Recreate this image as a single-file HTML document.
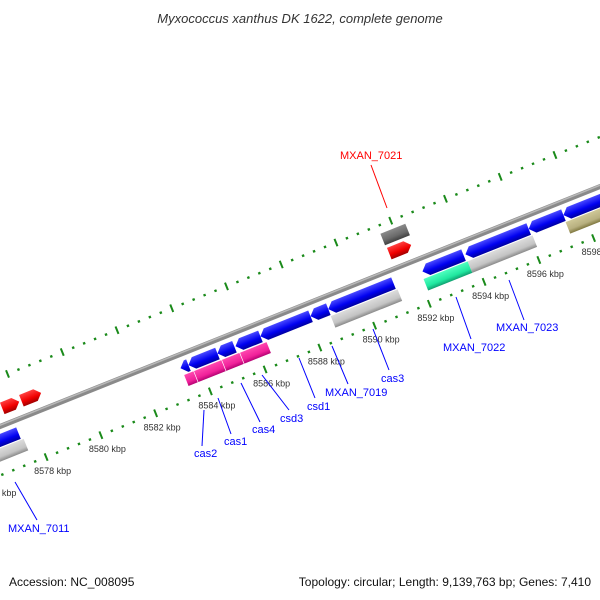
<!DOCTYPE html>
<html><head><meta charset="utf-8"><style>
html,body{margin:0;padding:0;background:#fff;}
svg{display:block;font-family:"Liberation Sans","DejaVu Sans",sans-serif;}
</style></head><body>
<svg id="map" width="600" height="600" viewBox="0 0 600 600" xmlns="http://www.w3.org/2000/svg">
<defs>
<linearGradient id="gBlue" x1="0" y1="0" x2="0" y2="1"><stop offset="0" stop-color="#4a4aff"/><stop offset="0.6" stop-color="#0000f0"/><stop offset="1" stop-color="#0000a0"/></linearGradient>
<linearGradient id="gGray" x1="0" y1="0" x2="0" y2="1"><stop offset="0" stop-color="#dcdcdc"/><stop offset="0.65" stop-color="#c4c4c4"/><stop offset="1" stop-color="#8a8a8a"/></linearGradient>
<linearGradient id="gPink" x1="0" y1="0" x2="0" y2="1"><stop offset="0" stop-color="#ff4ab0"/><stop offset="0.65" stop-color="#f0209a"/><stop offset="1" stop-color="#b00070"/></linearGradient>
<linearGradient id="gGreen" x1="0" y1="0" x2="0" y2="1"><stop offset="0" stop-color="#50ffc0"/><stop offset="0.65" stop-color="#20e8a0"/><stop offset="1" stop-color="#10a070"/></linearGradient>
<linearGradient id="gOlive" x1="0" y1="0" x2="0" y2="1"><stop offset="0" stop-color="#cfc898"/><stop offset="0.65" stop-color="#b8b080"/><stop offset="1" stop-color="#807840"/></linearGradient>
<linearGradient id="gRed" x1="0" y1="0" x2="0" y2="1"><stop offset="0" stop-color="#ff4040"/><stop offset="0.6" stop-color="#f00000"/><stop offset="1" stop-color="#a00000"/></linearGradient>
<linearGradient id="gDark" x1="0" y1="0" x2="0" y2="1"><stop offset="0" stop-color="#8a8a8a"/><stop offset="0.6" stop-color="#6a6a6a"/><stop offset="1" stop-color="#404040"/></linearGradient>
</defs>
<text x="300" y="23" text-anchor="middle" font-size="13" font-style="italic" fill="#333">Myxococcus xanthus DK 1622, complete genome</text>
<g id="track" transform="translate(0,426.5) rotate(-21.8)"></g>
<g id="ticklabels"></g>
<g font-size="11">
<g><line x1="15" y1="482" x2="37" y2="520" stroke="#00f"/><text x="8" y="532" fill="#00f">MXAN_7011</text></g>
<g><line x1="204" y1="410" x2="202" y2="446" stroke="#00f"/><text x="194" y="457" fill="#00f">cas2</text></g>
<g><line x1="218" y1="398" x2="231" y2="434" stroke="#00f"/><text x="224" y="445" fill="#00f">cas1</text></g>
<g><line x1="241" y1="383" x2="260" y2="422" stroke="#00f"/><text x="252" y="433" fill="#00f">cas4</text></g>
<g><line x1="262" y1="375" x2="289" y2="410" stroke="#00f"/><text x="280" y="422" fill="#00f">csd3</text></g>
<g><line x1="299" y1="358" x2="315" y2="398" stroke="#00f"/><text x="307" y="410" fill="#00f">csd1</text></g>
<g><line x1="332" y1="346" x2="348" y2="384" stroke="#00f"/><text x="325" y="396" fill="#00f">MXAN_7019</text></g>
<g><line x1="373" y1="329" x2="389" y2="370" stroke="#00f"/><text x="381" y="382" fill="#00f">cas3</text></g>
<g><line x1="456" y1="297" x2="471" y2="339" stroke="#00f"/><text x="443" y="351" fill="#00f">MXAN_7022</text></g>
<g><line x1="509" y1="280" x2="524" y2="320" stroke="#00f"/><text x="496" y="331" fill="#00f">MXAN_7023</text></g>
<g><line x1="371" y1="165" x2="387" y2="208" stroke="#f00"/><text x="340" y="159" fill="#f00">MXAN_7021</text></g>
</g>
<text x="9" y="586" font-size="12" fill="#111">Accession: NC_008095</text>
<text x="591" y="586" font-size="12" fill="#111" text-anchor="end">Topology: circular; Length: 9,139,763 bp; Genes: 7,410</text>
</svg>
<script>
const geneStart = [8575,8583.35,8583.64,8584.70,8585.36,8586.27,8588.10,8588.75,8592.19,8593.76,8596.07,8597.34, 8575,8588.74,8593.74, 8583.37,8583.73,8584.75,8585.41, 8592.13, 8597.32, 8577.23,8577.93,8591.37, 8591.34];
const geneEnd   = [8577.43,8583.64,8584.70,8585.32,8586.27,8588.10,8588.75,8591.13,8593.69,8596.07,8597.34,8599.5, 8577.52,8591.18,8596.11, 8583.73,8584.75,8585.41,8586.40, 8593.74, 8599.5, 8577.85,8578.65,8592.17, 8592.25];
const geneStrand = [-1,-1,-1,-1,-1,-1,-1,-1,-1,-1,-1,-1, 0,0,0, 0,0,0,0, 0, 0, 1,1,1, 0];
const geneLane   = [1,1,1,1,1,1,1,1,1,1,1,1, 2,2,2, 2,2,2,2, 2, 2, -1,-1,-1, -2];
const geneFill   = ["gBlue","gBlue","gBlue","gBlue","gBlue","gBlue","gBlue","gBlue","gBlue","gBlue","gBlue","gBlue","gGray","gGray","gGray","gPink","gPink","gPink","gPink","gGreen","gOlive","gRed","gRed","gRed","gDark"];
const lowerMajorTicks = [8576,8578,8580,8582,8584,8586,8588,8590,8592,8594,8596,8598,8600];
const lowerTickLabels = ["8576 kbp","8578 kbp","8580 kbp","8582 kbp","8584 kbp","8586 kbp","8588 kbp","8590 kbp","8592 kbp","8594 kbp","8596 kbp","8598 kbp","8600 kbp"];
const upperMajorTicks = [8575.83,8577.83,8579.83,8581.83,8583.83,8585.83,8587.83,8589.83,8591.83,8593.83,8595.83,8597.83,8599.83];

const NS="http://www.w3.org/2000/svg";
const ANG=21.8*Math.PI/180, COS=Math.cos(ANG), SIN=Math.sin(ANG);
function sPos(k){return 31.5+(k-8578)*29.48;}
const laneCenter={"1":13,"2":26.5,"-1":-16,"-2":-31.5};
const HALF=6.2, TIP=6, OLOW=45.5, OUP=-46;
function toGlobal(s,o){return [s*COS+o*SIN, 426.5-s*SIN+o*COS];}
const track=document.getElementById('track');
function mk(tag,attrs,parent){const e=document.createElementNS(NS,tag);for(const k in attrs)e.setAttribute(k,attrs[k]);parent.appendChild(e);return e;}

const bb=mk('line',{x1:-100,y1:0,x2:800,y2:0,stroke:'#8a8a8a','stroke-width':5},track);


const bbh=mk('line',{x1:-100,y1:-1.2,x2:800,y2:-1.2,stroke:'#b8b8b8','stroke-width':1.5},track);



function drawTrack(majors,o,name){
  for(let i=0;i<majors.length;i++){
    const s=sPos(majors[i]);
    const t=mk('line',{x1:s,y1:o-4,x2:s,y2:o+4,stroke:'#1a8a1a','stroke-width':2},track);
    
    
    if(i<majors.length-1){
      for(let j=1;j<5;j++){
        const sd=sPos(majors[i]+0.4*j);
        const d=mk('rect',{x:sd-1.2,y:o-1.2,width:2.4,height:2.4,fill:'#1a8a1a'},track);
        
        
      }
    }
  }
}
drawTrack(lowerMajorTicks,OLOW,'lower-scale');
drawTrack(upperMajorTicks,OUP,'upper-scale');

for(let i=0;i<geneStart.length;i++){
  const s1=sPos(geneStart[i]), s2=sPos(geneEnd[i]);
  const c=laneCenter[String(geneLane[i])], t=c-HALF, b=c+HALF;
  let pts;
  const tip=Math.min(TIP,(s2-s1)*0.7);
  if(geneStrand[i]<0) pts=[[s1,c],[s1+tip,t],[s2,t],[s2,b],[s1+tip,b]];
  else if(geneStrand[i]>0) pts=[[s1,t],[s2-tip,t],[s2,c],[s2-tip,b],[s1,b]];
  else pts=[[s1,t],[s2,t],[s2,b],[s1,b]];
  const p=mk('polygon',{points:pts.map(q=>q.join(',')).join(' '),fill:'url(#'+geneFill[i]+')',stroke:'#fff','stroke-width':geneFill[i]==='gPink'?0.6:0},track);
  
  
}

const tl=document.getElementById('ticklabels');
for(let i=0;i<lowerMajorTicks.length;i++){
  const g=toGlobal(sPos(lowerMajorTicks[i]),OLOW);
  const tx=mk('text',{x:g[0]-12,y:g[1]+17,'font-size':9,fill:'#333'},tl);
  tx.textContent=lowerTickLabels[i];
  
  
}
</script>
</body></html>
